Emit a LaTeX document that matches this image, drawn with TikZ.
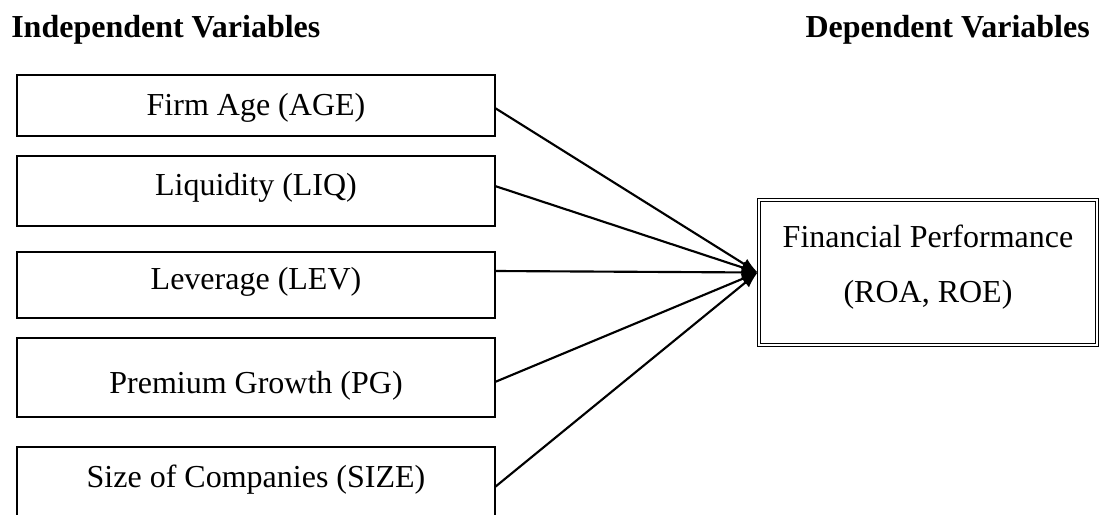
\documentclass[tikz,border=0pt]{standalone}
\usepackage{fontspec}
\setmainfont{Liberation Serif}
\usetikzlibrary{arrows.meta}
\tikzset{
  txt/.style={font=\fontsize{24}{41}\selectfont, inner sep=0pt, anchor=base},
  hdr/.style={font=\fontsize{24}{29}\selectfont\bfseries, inner sep=0pt},
  varbox/.style={draw, line width=1.4pt, minimum width=358.5pt, inner sep=0pt, outer sep=0pt},
  dvbox/.style={draw, line width=0.8pt, double, double distance=1.6pt, inner sep=0pt, outer sep=0pt,
                minimum width=253.5pt, minimum height=108.75pt},
  link/.style={line width=1.6pt, -{Latex[length=12pt,width=9pt]}}
}
\begin{document}
\begin{tikzpicture}[x=0.75pt, y=-0.75pt]
\useasboundingbox (0,0) rectangle (1099,514);
\clip (0,0) rectangle (1099,514);
\node[hdr, anchor=base west] (ihead) at (11,37) {Independent Variables};
\node[hdr, anchor=base east] (dhead) at (1090,37) {Dependent Variables};

\node[varbox, minimum height=45.75pt] (age) at (256,105.5) {};
\node[txt] (agetxt) at (256,115) {Firm Age (AGE)};
\node[varbox, minimum height=52.5pt] (liq) at (256,191) {};
\node[txt] (liqtxt) at (256,195) {Liquidity (LIQ)};
\node[varbox, minimum height=49.5pt] (lev) at (256,285) {};
\node[txt] (levtxt) at (256,289) {Leverage (LEV)};
\node[varbox, minimum height=59.25pt] (pg) at (256,377.5) {};
\node[txt] (pgtxt) at (256,393) {Premium Growth (PG)};
\node[varbox, minimum height=60pt] (size) at (256,487) {};
\node[txt] (sizetxt) at (256,487) {Size of Companies (SIZE)};

\node[dvbox] (fp) at (928,272.5) {};
\node[txt] (fptxt1) at (928,247) {Financial Performance};
\node[txt] (fptxt2) at (928,302) {(ROA, ROE)};

\draw[link] ([yshift=-2.5*0.75pt]age.east) -- ([xshift=-1pt]fp.west);
\draw[link] ([yshift=5*0.75pt]liq.east) -- ([xshift=-1pt]fp.west);
\draw[link] ([yshift=14*0.75pt]lev.east) -- ([xshift=-1pt]fp.west);
\draw[link] ([yshift=-4.5*0.75pt]pg.east) -- ([xshift=-1pt]fp.west);
\draw[link] (size.east) -- ([xshift=-1pt]fp.west);
\end{tikzpicture}
\end{document}
